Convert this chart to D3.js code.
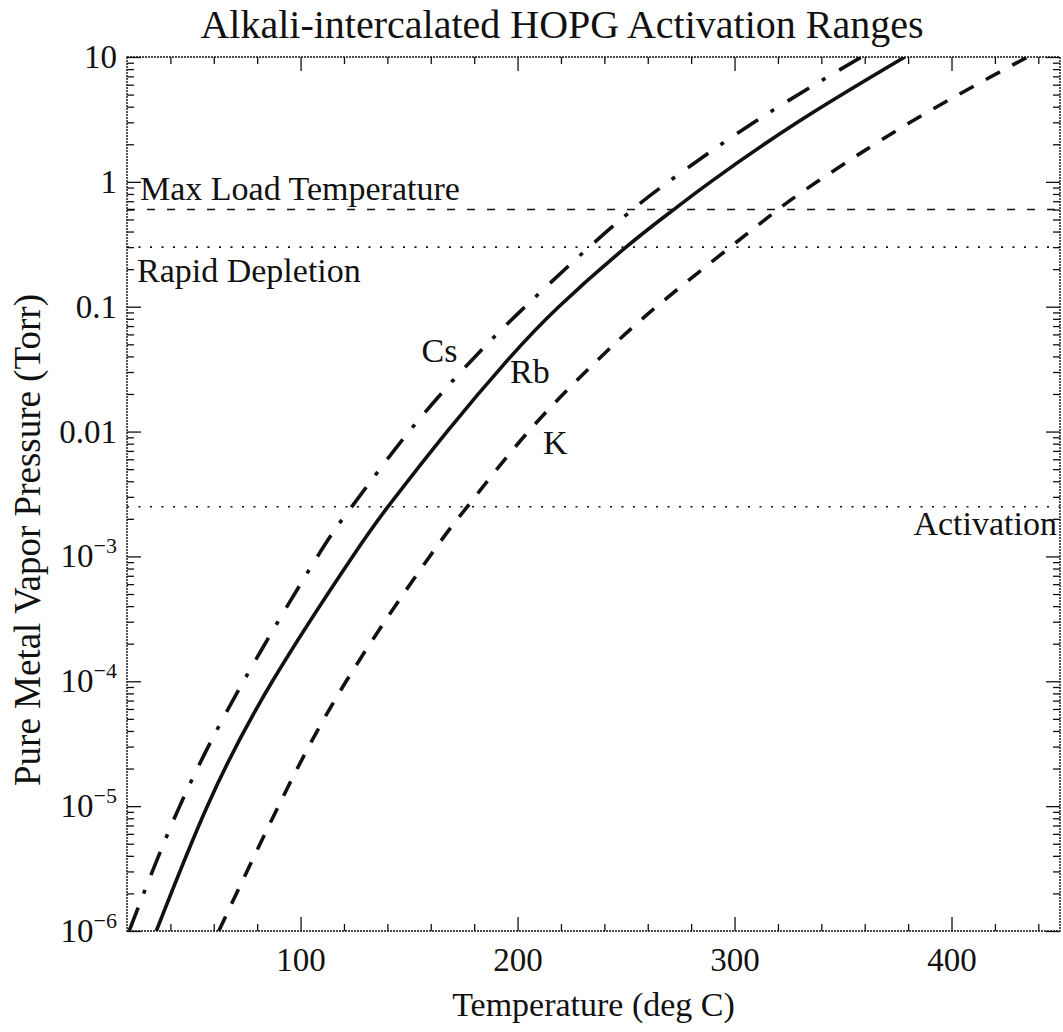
<!DOCTYPE html>
<html>
<head>
<meta charset="utf-8">
<script src="https://cdn.jsdelivr.net/npm/d3@7"></script>
<style>
  body { margin: 0; background: #fff; }
  svg text { font-family: "Liberation Serif", "Times New Roman", serif; fill: #111; }
</style>
</head>
<body>
<div id="chart"></div>
<script>
//values: temperature (deg C) where each metal reaches a given pressure (Torr)
let pressureLevels = [1e-6, 1e-5, 1e-4, 1e-3, 2.6e-3, 0.01, 0.0375, 0.1, 0.3, 0.6, 1, 3, 10];
let csTemps = [21, 44.3, 73.7, 107.8, 124.3, 150, 179, 203.5, 233, 253, 269.5, 309, 358.5];
let rbTemps = [33.5, 57, 87, 124, 141, 167.5, 195.5, 219, 250, 272, 289, 329, 378.5];
let kTemps = [62.3, 89.8, 121, 159.5, 177.6, 205, 237, 264, 298, 320, 338, 381, 435];

//horizontal reference levels
let refNames = ["Max Load Temperature", "Rapid Depletion", "Activation"];
let refLevels = [0.6, 0.3, 0.0025];

let xTicks = [100, 200, 300, 400];
let xMinorTicks = [40, 60, 80, 120, 140, 160, 180, 220, 240, 260, 280, 320, 340, 360, 380, 420, 440];
let yTicks = [1e-6, 1e-5, 1e-4, 1e-3, 0.01, 0.1, 1, 10];
let yTickBase = ["10", "10", "10", "10", "0.01", "0.1", "1", "10"];
let yTickSup = ["\u22126", "\u22125", "\u22124", "\u22123", "", "", "", ""];

//svg dimensions
let svgWidth = 1063;
let svgHeight = 1032;
let margin = { top: 57, right: 3, bottom: 101, left: 127 };
let chartWidth = svgWidth - margin.left - margin.right;
let chartHeight = svgHeight - margin.top - margin.bottom;

let svg = d3.select("#chart")
  .append("svg")
  .attr("width", svgWidth)
  .attr("height", svgHeight);

let chartGroup = svg.append("g")
  .attr("transform", `translate(${margin.left}, ${margin.top})`);

let xScale = d3.scaleLinear().domain([20, 450]).range([0, chartWidth]);
let yScale = d3.scaleLog().domain([1e-6, 10]).range([chartHeight, 0]);

/********************************************/
//minor log ticks 2..9 per decade
let yMinorTicks = [];
yTicks.slice(0, -1).forEach(function (d) {
  for (let k = 2; k <= 9; k++) yMinorTicks.push(d * k);
});

//axes, ticks pointing inwards
function addAxis(axis, tx, ty) {
  let g = chartGroup.append("g")
    .attr("transform", `translate(${tx}, ${ty})`)
    .call(axis);
  g.select(".domain").remove();
  g.selectAll("line").attr("stroke", "#111").attr("stroke-width", 1.3);
  return g;
}

let xBottom = addAxis(d3.axisBottom(xScale).tickValues(xTicks).tickSize(-14).tickPadding(17), 0, chartHeight);
xBottom.selectAll("text").attr("font-size", 33).attr("fill", "#111");
addAxis(d3.axisBottom(xScale).tickValues(xMinorTicks).tickSize(-7).tickFormat(""), 0, chartHeight);
addAxis(d3.axisTop(xScale).tickValues(xTicks).tickSize(-14).tickFormat(""), 0, 0);
addAxis(d3.axisTop(xScale).tickValues(xMinorTicks).tickSize(-7).tickFormat(""), 0, 0);

addAxis(d3.axisLeft(yScale).tickValues(yTicks).tickSize(-14).tickFormat(""), 0, 0);
addAxis(d3.axisLeft(yScale).tickValues(yMinorTicks).tickSize(-7).tickFormat(""), 0, 0);
addAxis(d3.axisRight(yScale).tickValues(yTicks).tickSize(-14).tickFormat(""), chartWidth, 0);
addAxis(d3.axisRight(yScale).tickValues(yMinorTicks).tickSize(-7).tickFormat(""), chartWidth, 0);

//y tick labels with superscript exponents
let yLabels = chartGroup.append("g")
  .selectAll("text")
  .data(yTicks)
  .enter()
  .append("text")
  .attr("x", -10)
  .attr("y", (d) => yScale(d) + 11)
  .attr("text-anchor", "end")
  .attr("font-size", 33);

yLabels.append("tspan").text((d, i) => yTickBase[i]);
yLabels.append("tspan")
  .attr("font-size", 22)
  .attr("dy", -14)
  .text((d, i) => yTickSup[i]);

/********************************************/
//plot frame
chartGroup.append("rect")
  .attr("x", 0)
  .attr("y", 0)
  .attr("width", chartWidth)
  .attr("height", chartHeight)
  .attr("fill", "none")
  .attr("stroke", "#111")
  .attr("stroke-width", 1.4)
  .attr("stroke-dasharray", "2,1");

chartGroup.append("clipPath")
  .attr("id", "plotClip")
  .append("rect")
  .attr("width", chartWidth)
  .attr("height", chartHeight);

let plotArea = chartGroup.append("g").attr("clip-path", "url(#plotClip)");

/********************************************/
//reference lines
let refDash = ["8,12", "2,9.5", "2,9.5"];
plotArea.selectAll(".refLine")
  .data(refLevels)
  .enter()
  .append("line")
  .attr("class", "refLine")
  .attr("x1", 0)
  .attr("x2", chartWidth)
  .attr("y1", (d) => yScale(d))
  .attr("y2", (d) => yScale(d))
  .attr("stroke", "#111")
  .attr("stroke-width", 1.6)
  .attr("stroke-dasharray", (d, i) => refDash[i]);

//vapor pressure curves
let line = d3.line()
  .x((d) => xScale(d[0]))
  .y((d) => yScale(d[1]))
  .curve(d3.curveNatural);

let series = [
  { name: "Cs", temps: csTemps, dash: "25,15,4,16" },
  { name: "Rb", temps: rbTemps, dash: null },
  { name: "K", temps: kTemps, dash: "16,14" },
];

series.forEach(function (s) {
  let pts = s.temps.map((t, i) => [t, pressureLevels[i]]);
  plotArea.append("path")
    .datum(pts)
    .attr("d", line)
    .attr("fill", "none")
    .attr("stroke", "#111")
    .attr("stroke-width", 3.6)
    .attr("stroke-dasharray", s.dash);
});

/********************************************/
//text labels
let notes = [
  { text: refNames[0], x: 13, y: 200, anchor: "start" },
  { text: refNames[1], x: 10, y: 281.5, anchor: "start" },
  { text: refNames[2], x: chartWidth - 3, y: 535, anchor: "end" },
  { text: "Cs", x: 294.5, y: 361.5, anchor: "start" },
  { text: "Rb", x: 383, y: 383, anchor: "start" },
  { text: "K", x: 416, y: 454, anchor: "start" },
];

svg.selectAll(".note")
  .data(notes)
  .enter()
  .append("text")
  .attr("class", "note")
  .attr("x", (d) => d.x + margin.left)
  .attr("y", (d) => d.y)
  .attr("text-anchor", (d) => d.anchor)
  .attr("font-size", 34)
  .text((d) => d.text);

//title and axis titles
svg.append("text")
  .attr("x", 562)
  .attr("y", 38)
  .attr("text-anchor", "middle")
  .attr("font-size", 40)
  .text("Alkali-intercalated HOPG Activation Ranges");

svg.append("text")
  .attr("x", margin.left + chartWidth / 2)
  .attr("y", 1016)
  .attr("text-anchor", "middle")
  .attr("font-size", 34)
  .text("Temperature (deg C)");

svg.append("text")
  .attr("transform", `translate(40, 540) rotate(-90)`)
  .attr("text-anchor", "middle")
  .attr("font-size", 37)
  .text("Pure Metal Vapor Pressure (Torr)");
</script>
</body>
</html>
